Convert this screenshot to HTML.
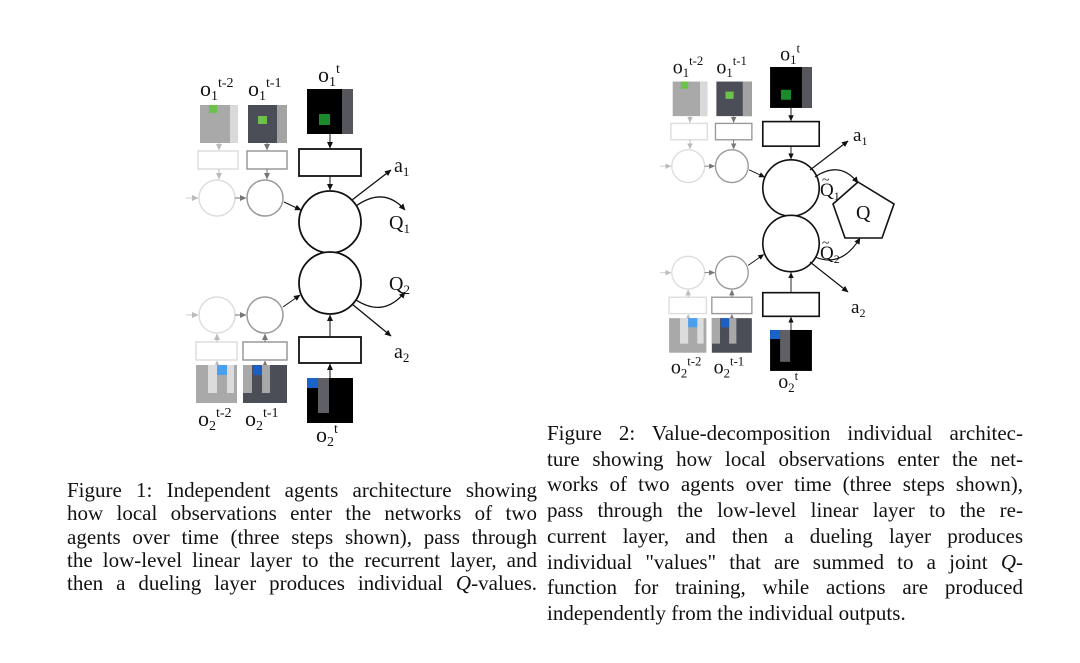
<!DOCTYPE html>
<html><head><meta charset="utf-8"><style>
html,body{margin:0;padding:0;background:#fff;}
body{width:1080px;height:663px;position:relative;overflow:hidden;font-family:"Liberation Serif",serif;}
.cap{position:absolute;font-size:21px;color:#111;}
.cap div{white-space:nowrap;text-align:justify;text-align-last:justify;line-height:24px;}
.cap div.l{text-align-last:left;}
svg{position:absolute;left:0;top:0;}
</style></head><body>
<svg width="1080" height="663" viewBox="0 0 1080 663" font-family="Liberation Serif, serif">
<defs>
<marker id="ab" markerWidth="7" markerHeight="7" refX="6" refY="3.5" orient="auto" markerUnits="userSpaceOnUse"><path d="M0,0.5 L6.5,3.5 L0,6.5 z" fill="#111"/></marker>
<marker id="ag" markerWidth="7" markerHeight="7" refX="6" refY="3.5" orient="auto" markerUnits="userSpaceOnUse"><path d="M0,0.5 L6.5,3.5 L0,6.5 z" fill="#777"/></marker>
<marker id="al" markerWidth="7" markerHeight="7" refX="6" refY="3.5" orient="auto" markerUnits="userSpaceOnUse"><path d="M0,0.5 L6.5,3.5 L0,6.5 z" fill="#bbb"/></marker>
</defs>
<g id="core">
 <rect x="200" y="105" width="38" height="38" fill="#a9a9a9"/><rect x="230" y="105" width="8" height="38" fill="#d9d9d9"/><rect x="209" y="105" width="8" height="8" fill="#6cc24a"/>
 <rect x="248" y="105" width="39" height="38" fill="#4b4e56"/><rect x="277" y="105" width="10" height="38" fill="#a3a3a3"/><rect x="258" y="116" width="9" height="8" fill="#6cc24a"/>
 <rect x="307" y="89" width="46" height="45" fill="#000"/><rect x="342" y="89" width="11" height="45" fill="#55575c"/><rect x="319" y="114" width="11" height="11" fill="#1a8a2a"/>
 <text x="200" y="96" font-size="22" fill="#111">o<tspan font-size="14" dy="4">1</tspan><tspan font-size="14" dy="-13">t-2</tspan></text>
 <text x="248" y="96" font-size="22" fill="#111">o<tspan font-size="14" dy="4">1</tspan><tspan font-size="14" dy="-13">t-1</tspan></text>
 <text x="318" y="82" font-size="22" fill="#111">o<tspan font-size="14" dy="4">1</tspan><tspan font-size="14" dy="-13">t</tspan></text>
 <rect x="198" y="151" width="40" height="18" fill="#fff" stroke="#ddd" stroke-width="1.5"/>
 <rect x="247" y="151" width="40" height="18" fill="#fff" stroke="#999" stroke-width="1.5"/>
 <rect x="299" y="149" width="62" height="27" fill="#fff" stroke="#111" stroke-width="1.8"/>
 <line x1="219" y1="143" x2="219" y2="150" stroke="#bbb" marker-end="url(#al)"/>
 <line x1="267" y1="143" x2="267" y2="150" stroke="#777" marker-end="url(#ag)"/>
 <line x1="330" y1="134" x2="330" y2="148" stroke="#111" marker-end="url(#ab)"/>
 <line x1="219" y1="169" x2="219" y2="179" stroke="#bbb" marker-end="url(#al)"/>
 <line x1="267" y1="169" x2="267" y2="179" stroke="#777" marker-end="url(#ag)"/>
 <line x1="330" y1="176" x2="330" y2="190" stroke="#111" marker-end="url(#ab)"/>
 <circle cx="217" cy="198" r="18" fill="#fff" stroke="#ddd" stroke-width="1.5"/>
 <circle cx="265" cy="198" r="18" fill="#fff" stroke="#999" stroke-width="1.5"/>
 <circle cx="330" cy="222" r="31" fill="#fff" stroke="#111" stroke-width="1.8"/>
 <line x1="186" y1="198" x2="198" y2="198" stroke="#ccc" marker-end="url(#al)"/>
 <line x1="235" y1="198" x2="246" y2="198" stroke="#777" marker-end="url(#ag)"/>
 <line x1="284" y1="202" x2="301" y2="210" stroke="#111" marker-end="url(#ab)"/>
 <circle cx="217" cy="315" r="18" fill="#fff" stroke="#ddd" stroke-width="1.5"/>
 <circle cx="265" cy="315" r="18" fill="#fff" stroke="#999" stroke-width="1.5"/>
 <circle cx="330" cy="283" r="31" fill="#fff" stroke="#111" stroke-width="1.8"/>
 <line x1="186" y1="315" x2="198" y2="315" stroke="#ccc" marker-end="url(#al)"/>
 <line x1="235" y1="315" x2="246" y2="315" stroke="#777" marker-end="url(#ag)"/>
 <line x1="283" y1="307" x2="300" y2="295" stroke="#111" marker-end="url(#ab)"/>
 <rect x="196" y="342" width="41" height="18" fill="#fff" stroke="#ddd" stroke-width="1.5"/>
 <rect x="243" y="342" width="44" height="18" fill="#fff" stroke="#999" stroke-width="1.5"/>
 <rect x="299" y="337" width="62" height="26" fill="#fff" stroke="#111" stroke-width="1.8"/>
 <line x1="217" y1="342" x2="217" y2="334" stroke="#bbb" marker-end="url(#al)"/>
 <line x1="265" y1="342" x2="265" y2="334" stroke="#777" marker-end="url(#ag)"/>
 <line x1="330" y1="337" x2="330" y2="315" stroke="#111" marker-end="url(#ab)"/>
 <line x1="217" y1="366" x2="217" y2="361" stroke="#bbb" marker-end="url(#al)"/>
 <line x1="265" y1="366" x2="265" y2="361" stroke="#777" marker-end="url(#ag)"/>
 <line x1="330" y1="378" x2="330" y2="364" stroke="#111" marker-end="url(#ab)"/>
 <rect x="196" y="365" width="41" height="38" fill="#a9a9a9"/><rect x="208" y="365" width="9" height="28" fill="#dcdcdc"/><rect x="227" y="365" width="7" height="28" fill="#dcdcdc"/><rect x="217" y="365" width="10" height="10" fill="#4aa0ee"/>
 <rect x="243" y="365" width="44" height="38" fill="#4b4e56"/><rect x="243" y="365" width="9" height="28" fill="#a8a8a8"/><rect x="262" y="365" width="8" height="28" fill="#a8a8a8"/><rect x="253" y="365" width="9" height="10" fill="#1b5fc4"/>
 <rect x="307" y="378" width="46" height="45" fill="#000"/><rect x="318" y="378" width="11" height="35" fill="#5e6066"/><rect x="307" y="378" width="11" height="10" fill="#1a63c8"/>
 <text x="198" y="426" font-size="22" fill="#111">o<tspan font-size="14" dy="4">2</tspan><tspan font-size="14" dy="-13">t-2</tspan></text>
 <text x="245" y="426" font-size="22" fill="#111">o<tspan font-size="14" dy="4">2</tspan><tspan font-size="14" dy="-13">t-1</tspan></text>
 <text x="316" y="442" font-size="22" fill="#111">o<tspan font-size="14" dy="4">2</tspan><tspan font-size="14" dy="-13">t</tspan></text>
</g>
<line x1="352" y1="200" x2="391" y2="170" stroke="#111" stroke-width="1.3" marker-end="url(#ab)"/>
<path d="M356,206 Q384,186 405,210" fill="none" stroke="#111" stroke-width="1.3" marker-end="url(#ab)"/>
<path d="M356,300 Q384,318 405,292" fill="none" stroke="#111" stroke-width="1.3" marker-end="url(#ab)"/>
<line x1="352" y1="304" x2="391" y2="336" stroke="#111" stroke-width="1.3" marker-end="url(#ab)"/>
<text x="394" y="172" font-size="20" fill="#111">a<tspan font-size="13" dy="4">1</tspan></text>
<text x="389" y="229" font-size="20" fill="#111">Q<tspan font-size="13" dy="4">1</tspan></text>
<text x="389" y="290" font-size="20" fill="#111">Q<tspan font-size="13" dy="4">2</tspan></text>
<text x="394" y="358" font-size="20" fill="#111">a<tspan font-size="13" dy="4">2</tspan></text>
<use href="#core" transform="translate(490.7,-14) scale(0.91)"/>
<line x1="810" y1="170" x2="848" y2="141" stroke="#111" stroke-width="1.2" marker-end="url(#ab)"/>
<path d="M815,177 Q840,160 858,183" fill="none" stroke="#111" stroke-width="1.2" marker-end="url(#ab)"/>
<path d="M815,257 Q842,268 860,238" fill="none" stroke="#111" stroke-width="1.2" marker-end="url(#ab)"/>
<line x1="810" y1="262" x2="848" y2="292" stroke="#111" stroke-width="1.2" marker-end="url(#ab)"/>
<polygon points="858,182 894,204 882,238 845,238 833,204" fill="#fff" stroke="#111" stroke-width="1.6"/>
<text x="856" y="219" font-size="20" fill="#111">Q</text>
<text x="853" y="141" font-size="19" fill="#111">a<tspan font-size="12" dy="4">1</tspan></text>
<text x="851" y="313" font-size="19" fill="#111">a<tspan font-size="12" dy="4">2</tspan></text>
<text x="820" y="196" font-size="19" fill="#111">Q<tspan font-size="12" dy="4">1</tspan></text>
<text x="822" y="184" font-size="14" fill="#111">~</text>
<text x="820" y="259" font-size="19" fill="#111">Q<tspan font-size="12" dy="4">2</tspan></text>
<text x="822" y="247" font-size="14" fill="#111">~</text>
</svg>
<div class="cap" style="left:67px;top:478px;width:470px;">
<div style="position:absolute;top:0;width:470px;">Figure 1: Independent agents architecture showing</div>
<div style="position:absolute;top:23.3px;width:470px;">how local observations enter the networks of two</div>
<div style="position:absolute;top:46.6px;width:470px;">agents over time (three steps shown), pass through</div>
<div style="position:absolute;top:70px;width:470px;">the low-level linear layer to the recurrent layer, and</div>
<div style="position:absolute;top:93.3px;width:470px;">then a dueling layer produces individual <i>Q</i>-values.</div>
</div>
<div class="cap" style="left:547px;top:421px;width:476px;">
<div style="position:absolute;top:0;width:476px;">Figure 2: Value-decomposition individual architec-</div>
<div style="position:absolute;top:25.7px;width:476px;">ture showing how local observations enter the net-</div>
<div style="position:absolute;top:51.4px;width:476px;">works of two agents over time (three steps shown),</div>
<div style="position:absolute;top:77.1px;width:476px;">pass through the low-level linear layer to the re-</div>
<div style="position:absolute;top:102.8px;width:476px;">current layer, and then a dueling layer produces</div>
<div style="position:absolute;top:128.5px;width:476px;">individual "values" that are summed to a joint <i>Q</i>-</div>
<div style="position:absolute;top:154.2px;width:476px;">function for training, while actions are produced</div>
<div class="l" style="position:absolute;top:179.9px;width:476px;">independently from the individual outputs.</div>
</div>
</body></html>
